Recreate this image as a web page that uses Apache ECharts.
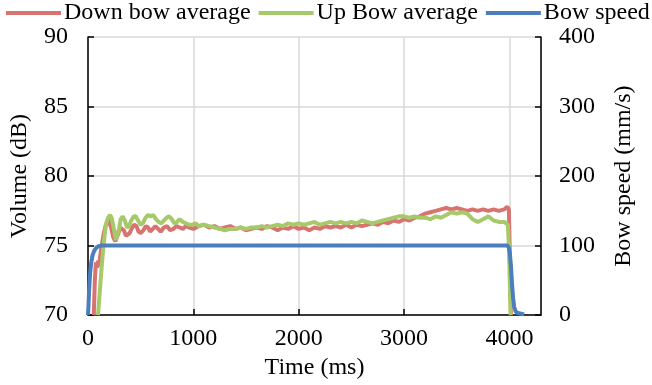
<!DOCTYPE html>
<html>
<head>
<meta charset="utf-8">
<script src="https://cdn.jsdelivr.net/npm/echarts@6/dist/echarts.min.js"></script>
<style>html,body{margin:0;padding:0;background:#fff}#c{width:652px;height:385px}</style>
</head>
<body>
<div id="c"></div>
<script>
// Time (ms) and values
var downTime = [55,65,75,85,95,105,115,130,150,170,190,205,220,240,260,275,290,305,320,340,360,375,395,420,440,460,480,500,525,550,570,590,615,640,665,690,720,750,780,810,840,870,900,930,960,1000,1050,1100,1150,1200,1250,1300,1350,1400,1450,1500,1550,1600,1650,1700,1750,1800,1850,1900,1950,2000,2050,2100,2150,2200,2250,2300,2350,2400,2450,2500,2550,2600,2650,2700,2750,2800,2850,2900,2950,3000,3050,3100,3150,3200,3250,3300,3350,3400,3450,3500,3550,3600,3650,3700,3750,3800,3850,3900,3950,3980,3995,4005,4015];
var downBow = [70.0,72.5,73.8,73.4,73.9,73.5,74.2,75.0,75.9,76.5,76.9,76.8,76.3,75.6,75.3,75.4,75.9,76.3,76.4,76.1,75.7,75.6,75.9,76.3,76.5,76.4,76.0,75.9,76.1,76.4,76.3,76.0,76.2,76.4,76.2,76.0,76.3,76.4,76.1,76.2,76.4,76.3,76.2,76.4,76.3,76.2,76.4,76.5,76.3,76.4,76.2,76.3,76.4,76.2,76.3,76.1,76.2,76.3,76.2,76.4,76.3,76.1,76.3,76.2,76.4,76.2,76.3,76.1,76.3,76.2,76.4,76.3,76.4,76.3,76.5,76.3,76.5,76.4,76.5,76.6,76.5,76.7,76.6,76.8,76.7,76.9,76.8,77.0,77.1,77.3,77.4,77.5,77.6,77.7,77.6,77.7,77.6,77.5,77.6,77.5,77.6,77.5,77.6,77.5,77.6,77.8,77.6,74.0,70.0];

var upTime = [95,110,130,150,170,190,210,225,245,265,280,295,310,330,350,370,390,410,435,455,475,500,520,545,570,595,620,645,670,695,720,745,770,795,820,845,870,900,930,960,990,1020,1050,1100,1150,1200,1250,1300,1350,1400,1450,1500,1550,1600,1650,1700,1750,1800,1850,1900,1950,2000,2050,2100,2150,2200,2250,2300,2350,2400,2450,2500,2550,2600,2650,2700,2750,2800,2850,2900,2950,3000,3050,3100,3150,3200,3250,3300,3350,3400,3450,3500,3550,3600,3650,3700,3750,3800,3850,3900,3950,3985,3995,4005,4012];
var upBow = [70.0,71.5,73.5,75.2,76.5,77.0,77.2,77.0,76.2,75.4,75.3,76.2,76.9,77.1,76.8,76.3,76.4,76.8,77.1,77.1,76.8,76.5,76.6,77.0,77.2,77.1,77.2,76.9,76.7,76.6,76.8,77.0,77.1,76.9,76.6,76.7,76.9,76.7,76.6,76.5,76.5,76.6,76.4,76.5,76.4,76.3,76.2,76.1,76.2,76.2,76.3,76.2,76.3,76.3,76.4,76.3,76.4,76.5,76.4,76.6,76.5,76.6,76.5,76.6,76.7,76.5,76.6,76.7,76.6,76.7,76.6,76.7,76.6,76.8,76.7,76.6,76.7,76.8,76.9,77.0,77.1,77.1,77.0,77.1,77.0,77.0,76.9,77.1,77.0,77.2,77.4,77.3,77.4,77.3,76.9,76.7,76.9,77.1,76.8,76.7,76.7,76.5,75.0,72.0,70.0];

var speedTime = [0,5,10,20,30,45,60,80,100,130,200,400,600,800,1000,1500,2000,2500,3000,3500,3980,3995,4005,4015,4025,4035,4045,4060,4080,4110,4140];
var bowSpeed = [0,15,35,60,75,87,93,97,99,100,100,100,100,100,100,100,100,100,100,100,100,97,88,70,45,25,12,5,3,2,1];

var xTicks = [0,1000,2000,3000,4000];
var leftTicks = [70,75,80,85,90];
var rightTicks = [0,100,200,300,400];

function pairs(t, v){ var o=[]; for(var i=0;i<t.length;i++) o.push([t[i], v[i]]); return o; }

var FONT = 'Liberation Serif';
var FS = 24;
var chart = echarts.init(document.getElementById('c'), null, {renderer:'canvas'});
chart.setOption({
  animation:false,
  textStyle:{fontFamily:FONT, color:'#000'},
  legend:{
    left:6, top:1, width:660, padding:0, itemWidth:55, itemHeight:4, itemGap:8, icon:'rect',
    textStyle:{fontFamily:FONT, fontSize:FS, color:'#000', padding:[0,0,0,-2]},
    data:['Down bow average','Up Bow average','Bow speed']
  },
  grid:{left:88, right:111, top:37, bottom:68, containLabel:false},
  xAxis:{
    type:'value', min:xTicks[0], max:4300, interval:1000,
    name:'Time (ms)', nameLocation:'middle', nameGap:34,
    nameTextStyle:{fontFamily:FONT, fontSize:FS, color:'#000'},
    axisLine:{show:true, lineStyle:{color:'#000', width:1.5}},
    axisTick:{show:true, inside:true, length:6, lineStyle:{color:'#000', width:1.5}},
    axisLabel:{fontFamily:FONT, fontSize:FS, color:'#000', margin:12, showMaxLabel:false,
      formatter:function(v){ return xTicks.indexOf(v) >= 0 ? String(v) : ''; }},
    splitLine:{show:true, lineStyle:{color:'#d9d9d9', width:1.5}}
  },
  yAxis:[{
    type:'value', min:leftTicks[0], max:leftTicks[leftTicks.length-1], interval:5,
    name:'Volume (dB)', nameLocation:'middle', nameGap:56, nameRotate:90,
    nameTextStyle:{fontFamily:FONT, fontSize:FS, color:'#000'},
    axisLine:{show:true, lineStyle:{color:'#000', width:1.5}},
    axisTick:{show:true, inside:true, length:6, lineStyle:{color:'#000', width:1.5}},
    axisLabel:{fontFamily:FONT, fontSize:FS, color:'#000', margin:20},
    splitLine:{show:true, lineStyle:{color:'#d9d9d9', width:1.5}}
  },{
    type:'value', position:'right', min:rightTicks[0], max:rightTicks[rightTicks.length-1], interval:100,
    name:'Bow speed (mm/s)', nameLocation:'middle', nameGap:71, nameRotate:90,
    nameTextStyle:{fontFamily:FONT, fontSize:FS, color:'#000'},
    axisLine:{show:true, lineStyle:{color:'#000', width:1.5}},
    axisTick:{show:true, inside:true, length:6, lineStyle:{color:'#000', width:1.5}},
    axisLabel:{fontFamily:FONT, fontSize:FS, color:'#000', margin:18},
    splitLine:{show:false}
  }],
  series:[
    {name:'Down bow average', type:'line', yAxisIndex:0, showSymbol:false, symbol:'none',
     data:pairs(downTime, downBow), lineStyle:{color:'#D8736F', width:4}, itemStyle:{color:'#D8736F'}},
    {name:'Up Bow average', type:'line', yAxisIndex:0, showSymbol:false, symbol:'none',
     data:pairs(upTime, upBow), lineStyle:{color:'#A6C96A', width:4}, itemStyle:{color:'#A6C96A'}},
    {name:'Bow speed', type:'line', yAxisIndex:1, showSymbol:false, symbol:'none',
     data:pairs(speedTime, bowSpeed), lineStyle:{color:'#4A7EBF', width:4}, itemStyle:{color:'#4A7EBF'}}
  ]
});
</script>
</body>
</html>
